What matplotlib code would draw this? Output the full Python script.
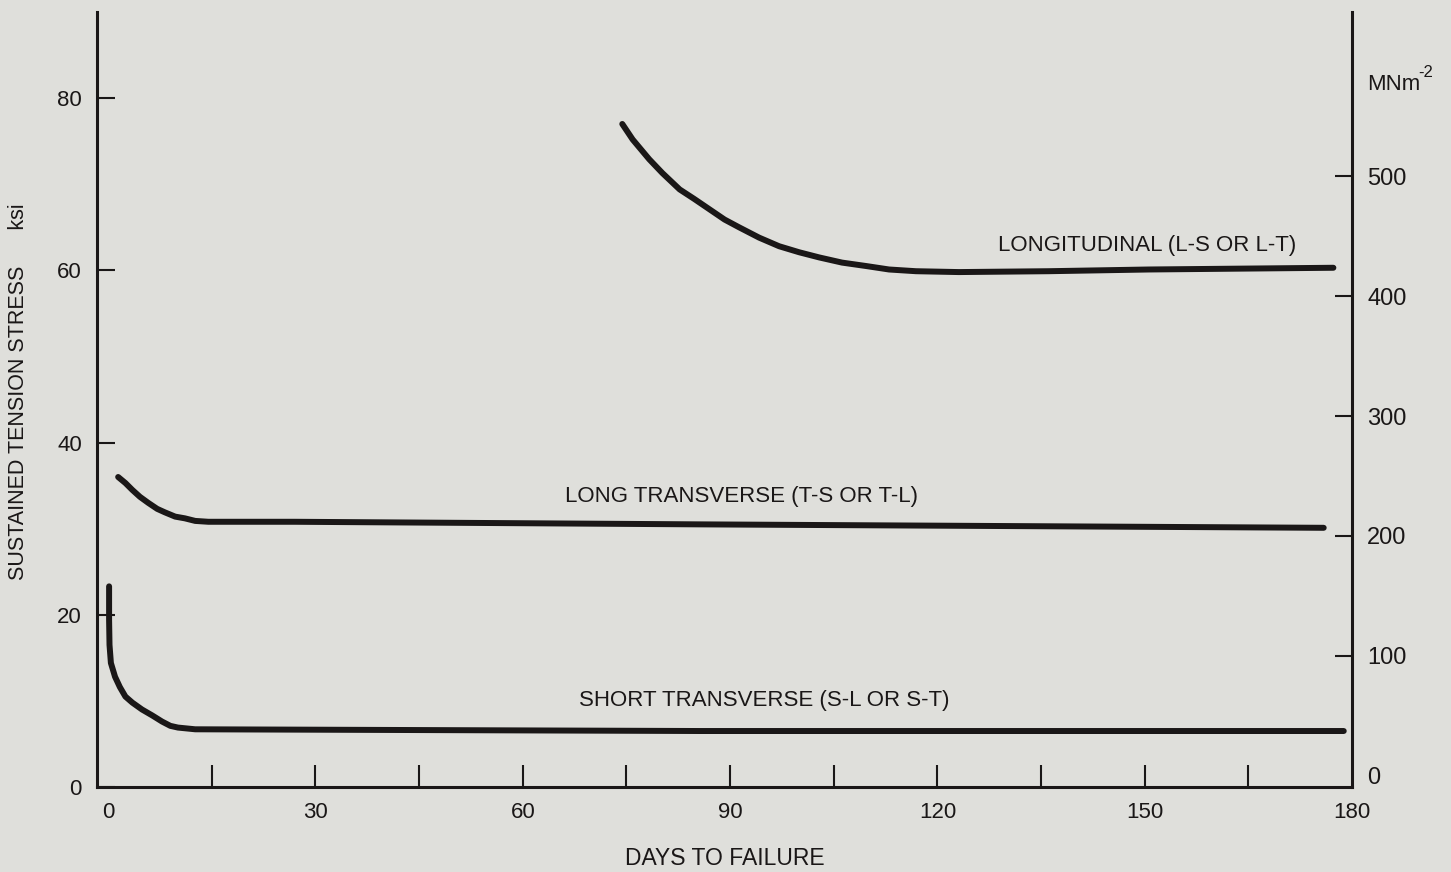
import matplotlib
matplotlib.use("Agg")
import matplotlib.pyplot as plt
from matplotlib.ticker import FixedLocator

plt.rcParams['font.family'] = ['Liberation Sans', 'DejaVu Sans']

# curves (days, ksi)
long_days = [74.4, 75.9, 78.3, 80.2, 82.7, 84.8, 87.0, 89.2, 91.3, 94.2, 97.1, 100.0,
             102.9, 106.2, 109.7, 113.0, 116.9, 123.1, 136.1, 150.6, 177.3]
long_ksi = [77.0, 75.2, 72.9, 71.3, 69.4, 68.3, 67.1, 65.9, 65.0, 63.8, 62.8, 62.1,
            61.5, 60.9, 60.5, 60.1, 59.9, 59.8, 59.9, 60.1, 60.3]

lt_days = [1.45, 2.5, 3.5, 4.6, 5.8, 7.1, 8.2, 9.7, 11.1, 12.6, 14.5, 27.0, 85.5, 175.9]
lt_ksi = [36.0, 35.3, 34.5, 33.7, 33.0, 32.3, 31.9, 31.4, 31.2, 30.9, 30.8, 30.8, 30.5, 30.1]

st_days = [0.14, 0.14, 0.2, 0.4, 1.0, 1.7, 2.5, 3.5, 4.9, 6.4, 7.8, 9.0, 10.1, 12.6, 85.5, 178.8]
st_ksi = [23.3, 19.4, 16.5, 14.4, 12.8, 11.6, 10.5, 9.8, 9.0, 8.3, 7.6, 7.1, 6.9, 6.7, 6.5, 6.5]

curve_labels = ["LONGITUDINAL (L-S OR L-T)", "LONG TRANSVERSE (T-S OR T-L)", "SHORT TRANSVERSE (S-L OR S-T)"]
label_days = [150.3, 91.6, 94.9]
label_ksi = [62.9, 33.7, 10.1]

x_labels = [0, 30, 60, 90, 120, 150, 180]
x_minor = [15, 45, 75, 105, 135, 165]
ksi_ticks = [0, 20, 40, 60, 80]
mpa_ticks = [0, 100, 200, 300, 400, 500]

bg = '#dfdfdb'
ink = '#1a1717'

fig = plt.figure(figsize=(14.51, 8.72), dpi=100, facecolor=bg)
ax = fig.add_axes([0.0669, 0.0975, 0.8649, 0.8887])
ax.set_facecolor(bg)

for d, k in [(long_days, long_ksi), (lt_days, lt_ksi), (st_days, st_ksi)]:
    ax.plot(d, k, color=ink, lw=4.3, solid_capstyle='round', solid_joinstyle='round')

for txt, d, k in zip(curve_labels, label_days, label_ksi):
    ax.text(d, k, txt, ha='center', va='center', fontsize=16, color=ink)

ax.set_xlim(-1.6, 180)
ax.set_ylim(0, 90)

for s in ['left', 'bottom']:
    ax.spines[s].set_linewidth(2.2)
    ax.spines[s].set_color(ink)
ax.spines['top'].set_visible(False)
ax.spines['right'].set_visible(False)

ax.xaxis.set_major_locator(FixedLocator(x_labels))
ax.xaxis.set_minor_locator(FixedLocator(x_minor))
ax.yaxis.set_major_locator(FixedLocator(ksi_ticks))
ax.tick_params(axis='x', which='both', direction='in', length=16, width=1.5, color=ink,
               labelsize=16, pad=11, labelcolor=ink)
ax.tick_params(axis='y', direction='in', length=13, width=1.5, color=ink,
               labelsize=16, pad=11, labelcolor=ink)
# no tick mark at day 0 / 180 (they sit on the frame)
ax.xaxis.get_major_ticks()[0].tick1line.set_visible(False)
ax.xaxis.get_major_ticks()[-1].tick1line.set_visible(False)

ax.set_xlabel("DAYS TO FAILURE", fontsize=16.5, color=ink, labelpad=17)
ax.set_ylabel("SUSTAINED TENSION STRESS      ksi", fontsize=15.5, color=ink)
ax.yaxis.set_label_coords(-0.054, 0.51)

# right hand stress scale
ax2 = ax.twinx()
ax2.set_ylim(-9.2, 636.7)
for s in ['left', 'bottom', 'top']:
    ax2.spines[s].set_visible(False)
ax2.spines['right'].set_linewidth(2.2)
ax2.spines['right'].set_color(ink)
ax2.yaxis.set_major_locator(FixedLocator(mpa_ticks))
ax2.tick_params(axis='y', direction='in', length=12, width=1.5, color=ink,
                labelsize=17, pad=11, labelcolor=ink)
ax2.yaxis.get_major_ticks()[0].tick2line.set_visible(False)
ax2.text(1.012, 0.907, "MNm", transform=ax2.transAxes, fontsize=16,
         color=ink, ha='left', va='center')
ax2.text(1.053, 0.922, "-2", transform=ax2.transAxes, fontsize=12,
         color=ink, ha='left', va='center')

fig.savefig("out.png", dpi=100, facecolor=bg)
